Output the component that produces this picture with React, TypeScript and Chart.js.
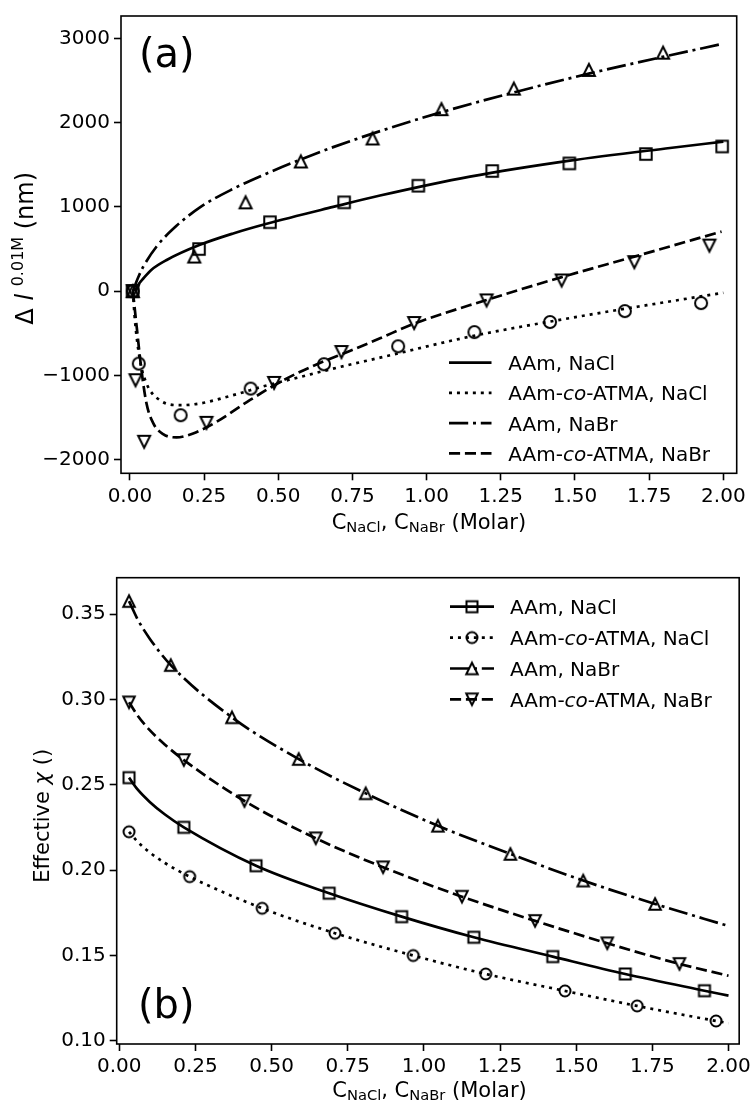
import React, { useEffect, useRef } from "react";
import { Chart, registerables } from "chart.js";
Chart.register(...registerables);

// ================= Panel (a): Δl relative to 0.01 M (nm) =================
const aXTicks = [0, 0.25, 0.5, 0.75, 1.0, 1.25, 1.5, 1.75, 2.0];
const aYTicks = [-2000, -1000, 0, 1000, 2000, 3000];

// measured points (markers)
const aAAmNaClX = [0.009, 0.233, 0.472, 0.722, 0.972, 1.221, 1.481, 1.739, 1.996];
const aAAmNaClY = [0, 500, 818, 1054, 1252, 1426, 1517, 1628, 1718];
const aCoNaClX = [0.01, 0.03, 0.171, 0.407, 0.654, 0.904, 1.161, 1.416, 1.668, 1.925];
const aCoNaClY = [0, -860, -1473, -1157, -868, -655, -486, -367, -237, -142];
const aAAmNaBrX = [0.01, 0.217, 0.39, 0.576, 0.818, 1.05, 1.294, 1.547, 1.797];
const aAAmNaBrY = [0, 411, 1054, 1540, 1813, 2161, 2405, 2627, 2832];
const aCoNaBrX = [0.01, 0.019, 0.048, 0.258, 0.486, 0.713, 0.958, 1.202, 1.455, 1.7, 1.953];
const aCoNaBrY = [0, -1058, -1789, -1564, -1090, -723, -379, -110, 127, 344, 541];

// fitted curves
const aAAmNaClFitX = [0.017, 0.03, 0.045, 0.073, 0.124, 0.236, 0.348, 0.461, 0.685, 0.843, 1.146, 1.483, 1.82, 2.0];
const aAAmNaClFitY = [0, 85, 150, 255, 370, 550, 685, 800, 1000, 1135, 1360, 1550, 1700, 1775];
const aCoNaClFitX = [0.01, 0.017, 0.034, 0.056, 0.101, 0.169, 0.236, 0.348, 0.461, 0.573, 0.685, 0.843, 1.146, 1.483, 2.0];
const aCoNaClFitY = [0, -347, -821, -1097, -1295, -1354, -1334, -1235, -1120, -1020, -920, -790, -540, -320, -19];
const aAAmNaBrFitX = [0.01, 0.02, 0.03, 0.045, 0.09, 0.157, 0.236, 0.348, 0.46, 0.573, 0.685, 0.843, 1.05, 1.3, 1.55, 1.8, 2.0];
const aAAmNaBrFitY = [0, 95, 180, 290, 530, 775, 995, 1215, 1395, 1560, 1710, 1900, 2125, 2365, 2585, 2785, 2938];
const aCoNaBrFitX = [0.01, 0.023, 0.039, 0.056, 0.079, 0.112, 0.157, 0.213, 0.292, 0.404, 0.517, 0.629, 0.741, 0.843, 0.955, 1.202, 1.455, 1.7, 1.994];
const aCoNaBrFitY = [0, -427, -940, -1334, -1571, -1698, -1737, -1690, -1552, -1295, -1058, -870, -710, -560, -390, -105, 166, 410, 707];

// ================= Panel (b): effective chi =================
const bXTicks = [0, 0.25, 0.5, 0.75, 1.0, 1.25, 1.5, 1.75, 2.0];
const bYTicks = [0.1, 0.15, 0.2, 0.25, 0.3, 0.35];

const bAAmNaClX = [0.032, 0.212, 0.449, 0.689, 0.927, 1.164, 1.423, 1.661, 1.921];
const bAAmNaClY = [0.2542, 0.2251, 0.2026, 0.1865, 0.1728, 0.1607, 0.1494, 0.1392, 0.1294];
const bCoNaClX = [0.032, 0.231, 0.469, 0.708, 0.965, 1.203, 1.463, 1.7, 1.959];
const bCoNaClY = [0.2225, 0.1962, 0.1777, 0.1631, 0.15, 0.1392, 0.1293, 0.1205, 0.1117];
const bAAmNaBrX = [0.032, 0.169, 0.37, 0.589, 0.809, 1.046, 1.284, 1.523, 1.759];
const bAAmNaBrY = [0.3576, 0.3201, 0.2895, 0.2651, 0.245, 0.226, 0.2095, 0.1939, 0.1802];
const bCoNaBrX = [0.032, 0.212, 0.411, 0.645, 0.866, 1.125, 1.365, 1.602, 1.839];
const bCoNaBrY = [0.2983, 0.2645, 0.2405, 0.2187, 0.2017, 0.1845, 0.1703, 0.1572, 0.1451];

const bAAmNaClFitX = [0.032, 0.06, 0.1, 0.15, 0.212, 0.449, 0.689, 0.927, 1.164, 1.423, 1.661, 1.921, 2.0];
const bAAmNaClFitY = [0.2542, 0.2473, 0.24, 0.2326, 0.2251, 0.2026, 0.1865, 0.1728, 0.1607, 0.1494, 0.1392, 0.1294, 0.1265];
const bCoNaClFitX = [0.032, 0.06, 0.1, 0.15, 0.231, 0.469, 0.708, 0.965, 1.203, 1.463, 1.7, 1.959, 2.0];
const bCoNaClFitY = [0.2225, 0.2167, 0.2104, 0.2042, 0.1962, 0.1777, 0.1631, 0.15, 0.1392, 0.1293, 0.1205, 0.1117, 0.1104];
const bAAmNaBrFitX = [0.032, 0.06, 0.1, 0.169, 0.37, 0.589, 0.809, 1.046, 1.284, 1.523, 1.759, 2.0];
const bAAmNaBrFitY = [0.3576, 0.347, 0.3356, 0.3201, 0.2895, 0.2651, 0.245, 0.226, 0.2095, 0.1939, 0.1802, 0.1673];
const bCoNaBrFitX = [0.032, 0.06, 0.1, 0.15, 0.212, 0.411, 0.645, 0.866, 1.125, 1.365, 1.602, 1.839, 2.0];
const bCoNaBrFitY = [0.2983, 0.2906, 0.282, 0.2735, 0.2645, 0.2405, 0.2187, 0.2017, 0.1845, 0.1703, 0.1572, 0.1451, 0.1382];

const seriesNames = ["AAm, NaCl", "AAm-co-ATMA, NaCl", "AAm, NaBr", "AAm-co-ATMA, NaBr"];

// ================= layout / styling =================
const W = 755;
const H = 1104;
const SPLIT = 545; // page y where the second canvas starts

const FONT = '"DejaVu Sans", sans-serif';
const LW = 2.7;
const DASH: Record<string, number[]> = {
  solid: [],
  dotted: [3, 4.95],
  dashdot: [19.2, 4.8, 3, 4.8],
  dashed: [11.1, 4.8],
};

const pts = (xs: number[], ys: number[]) => xs.map((x, i) => ({ x, y: ys[i] }));

function makeMarker(shape: string, size: number, lw: number): HTMLCanvasElement {
  const dim = 2 * Math.ceil(size / 2 + lw + 2);
  const c = document.createElement("canvas");
  c.width = dim;
  c.height = dim;
  const g = c.getContext("2d")!;
  const cx = dim / 2, cy = dim / 2, h = size / 2;
  g.strokeStyle = "#000";
  g.lineWidth = lw;
  g.lineJoin = "miter";
  g.beginPath();
  if (shape === "square") g.rect(cx - h, cy - h, size, size);
  else if (shape === "circle") g.arc(cx, cy, h, 0, Math.PI * 2);
  else if (shape === "up") {
    g.moveTo(cx, cy - h); g.lineTo(cx - h, cy + h); g.lineTo(cx + h, cy + h); g.closePath();
  } else {
    g.moveTo(cx, cy + h); g.lineTo(cx - h, cy - h); g.lineTo(cx + h, cy - h); g.closePath();
  }
  g.stroke();
  return c;
}

type Piece = { t: string; size: number; italic?: boolean; dy?: number };
function fontOf(p: Piece) {
  return `${p.italic ? "italic " : ""}${p.size}px ${FONT}`;
}
function richWidth(ctx: CanvasRenderingContext2D, pieces: Piece[]) {
  let w = 0;
  for (const p of pieces) { ctx.font = fontOf(p); w += ctx.measureText(p.t).width; }
  return w;
}
function drawRich(ctx: CanvasRenderingContext2D, pieces: Piece[], x: number, y: number) {
  let cx = x;
  ctx.textBaseline = "alphabetic";
  ctx.textAlign = "left";
  for (const p of pieces) {
    ctx.font = fontOf(p);
    ctx.fillText(p.t, cx, y + (p.dy || 0));
    cx += ctx.measureText(p.t).width;
  }
}
function drawRichCentered(ctx: CanvasRenderingContext2D, pieces: Piece[], x: number, y: number, rotated: boolean) {
  const w = richWidth(ctx, pieces);
  ctx.save();
  ctx.translate(x, y);
  if (rotated) ctx.rotate(-Math.PI / 2);
  drawRich(ctx, pieces, -w / 2, 0);
  ctx.restore();
}
function legendPieces(name: string, size: number): Piece[] {
  const i = name.indexOf("-co-");
  if (i < 0) return [{ t: name, size }];
  return [
    { t: name.slice(0, i + 1), size },
    { t: "co", size, italic: true },
    { t: name.slice(i + 3), size },
  ];
}
function drawFrame(ctx: CanvasRenderingContext2D, ca: any) {
  ctx.strokeStyle = "#000";
  ctx.lineWidth = 1.6;
  ctx.setLineDash([]);
  ctx.strokeRect(ca.left, ca.top, ca.right - ca.left, ca.bottom - ca.top);
}

const xTitle: Piece[] = [
  { t: "C", size: 21 },
  { t: "NaCl", size: 14.7, dy: 3.4 },
  { t: ", C", size: 21 },
  { t: "NaBr", size: 14.7, dy: 3.4 },
  { t: " (Molar)", size: 21 },
];
const aYTitle: Piece[] = [
  { t: "Δ ", size: 24 },
  { t: "l", size: 24, italic: true },
  { t: " ", size: 24 },
  { t: "0.01M", size: 16, dy: -10.3 },
  { t: " (nm)", size: 24 },
];
const bYTitle: Piece[] = [
  { t: "Effective ", size: 21 },
  { t: "χ", size: 21, italic: true },
  { t: " ()", size: 21 },
];

function axis(ticksArr: number[], fmt: (v: number) => string, min: number, max: number, fixed: number, isX: boolean) {
  return {
    type: "linear",
    min,
    max,
    afterFit: (s: any) => {
      if (isX) s.height = fixed;
      else s.width = fixed;
    },
    afterBuildTicks: (s: any) => {
      s.ticks = ticksArr.map((v) => ({ value: v }));
    },
    ticks: {
      font: { family: FONT, size: 20 },
      color: "#000",
      padding: 4,
      autoSkip: false,
      maxRotation: 0,
      minRotation: 0,
      callback: (v: any) => fmt(Number(v)),
    },
    grid: { drawOnChartArea: false, drawTicks: true, tickLength: 7, tickWidth: 1.6, tickColor: "#000" },
    border: { display: false },
  };
}

const fmt2 = (v: number) => v.toFixed(2);
const fmtInt = (v: number) => (v < 0 ? "\u2212" + Math.abs(v) : String(v));

function lineDs(xs: number[], ys: number[], dash: number[]) {
  return {
    data: pts(xs, ys),
    showLine: true,
    pointRadius: 0,
    pointHoverRadius: 0,
    borderColor: "#000",
    borderWidth: LW,
    borderDash: dash,
    cubicInterpolationMode: "monotone",
    fill: false,
  };
}
function markerDs(xs: number[], ys: number[], marker: HTMLCanvasElement) {
  return {
    data: pts(xs, ys),
    showLine: false,
    pointStyle: marker,
    pointRadius: 6,
    pointHoverRadius: 6,
    borderColor: "#000",
    backgroundColor: "transparent",
  };
}

function makeA(canvas: HTMLCanvasElement) {
  const mk = {
    square: makeMarker("square", 11.5, 2),
    circle: makeMarker("circle", 12, 2),
    up: makeMarker("up", 12, 2),
    down: makeMarker("down", 12, 2),
  };
  const legendDash = [DASH.solid, DASH.dotted, DASH.dashdot, DASH.dashed];
  const deco = {
    id: "decoA",
    afterDraw(chart: any) {
      const ctx: CanvasRenderingContext2D = chart.ctx;
      ctx.save();
      drawFrame(ctx, chart.chartArea);
      ctx.fillStyle = "#000";
      ctx.font = `40px ${FONT}`;
      ctx.textBaseline = "alphabetic";
      ctx.textAlign = "left";
      ctx.fillText("(a)", 139, 66.7);
      drawRichCentered(ctx, xTitle, 428.9, 529, false);
      drawRichCentered(ctx, aYTitle, 33.3, 248.3, true);
      const rows = [362.7, 392.9, 423.1, 453.3];
      rows.forEach((ry, i) => {
        ctx.strokeStyle = "#000";
        ctx.lineWidth = LW;
        ctx.setLineDash(legendDash[i]);
        ctx.beginPath();
        ctx.moveTo(449, ry);
        ctx.lineTo(491.5, ry);
        ctx.stroke();
        ctx.setLineDash([]);
        ctx.fillStyle = "#000";
        drawRich(ctx, legendPieces(seriesNames[i], 20), 508.3, ry + 7.4);
      });
      ctx.restore();
    },
  };
  return new Chart(canvas, {
    type: "scatter",
    data: {
      datasets: [
        lineDs(aAAmNaClFitX, aAAmNaClFitY, DASH.solid),
        lineDs(aCoNaClFitX, aCoNaClFitY, DASH.dotted),
        lineDs(aAAmNaBrFitX, aAAmNaBrFitY, DASH.dashdot),
        lineDs(aCoNaBrFitX, aCoNaBrFitY, DASH.dashed),
        markerDs(aAAmNaClX, aAAmNaClY, mk.square),
        markerDs(aCoNaClX, aCoNaClY, mk.circle),
        markerDs(aAAmNaBrX, aAAmNaBrY, mk.up),
        markerDs(aCoNaBrX, aCoNaBrY, mk.down),
      ] as any,
    },
    options: {
      animation: false,
      responsive: false,
      devicePixelRatio: 1,
      events: [],
      layout: { padding: { left: 0, top: 15, right: W - 736.7, bottom: 0 } },
      plugins: { legend: { display: false }, tooltip: { enabled: false } },
      scales: {
        x: axis(aXTicks, fmt2, -0.03, 2.045, SPLIT - 473.3, true),
        y: axis(aYTicks, fmtInt, -2163, 3267, 121, false),
      } as any,
    },
    plugins: [deco],
  });
}

function makeB(canvas: HTMLCanvasElement) {
  const mk = {
    square: makeMarker("square", 11, 2),
    circle: makeMarker("circle", 11, 2),
    up: makeMarker("up", 11.5, 2),
    down: makeMarker("down", 11.5, 2),
  };
  const legendDash = [DASH.solid, DASH.dotted, DASH.dashdot, DASH.dashed];
  const legendMk = [mk.square, mk.circle, mk.up, mk.down];
  const o = SPLIT; // page -> canvas offset
  const deco = {
    id: "decoB",
    afterDraw(chart: any) {
      const ctx: CanvasRenderingContext2D = chart.ctx;
      ctx.save();
      drawFrame(ctx, chart.chartArea);
      ctx.fillStyle = "#000";
      ctx.font = `40px ${FONT}`;
      ctx.textBaseline = "alphabetic";
      ctx.textAlign = "left";
      ctx.fillText("(b)", 138, 1018.3 - o);
      drawRichCentered(ctx, xTitle, 429.5, 1097 - o, false);
      drawRichCentered(ctx, bYTitle, 49, 815.8 - o, true);
      const rows = [606.7, 637.6, 668.5, 699.3];
      rows.forEach((py, i) => {
        const ry = py - o;
        ctx.strokeStyle = "#000";
        ctx.lineWidth = LW;
        ctx.setLineDash(legendDash[i]);
        ctx.beginPath();
        ctx.moveTo(450, ry);
        ctx.lineTo(494, ry);
        ctx.stroke();
        ctx.setLineDash([]);
        const m = legendMk[i];
        ctx.drawImage(m, 472 - m.width / 2, ry - m.height / 2);
        ctx.fillStyle = "#000";
        drawRich(ctx, legendPieces(seriesNames[i], 20), 510, ry + 7.4);
      });
      ctx.restore();
    },
  };
  return new Chart(canvas, {
    type: "scatter",
    data: {
      datasets: [
        lineDs(bAAmNaClFitX, bAAmNaClFitY, DASH.solid),
        lineDs(bCoNaClFitX, bCoNaClFitY, DASH.dotted),
        lineDs(bAAmNaBrFitX, bAAmNaBrFitY, DASH.dashdot),
        lineDs(bCoNaBrFitX, bCoNaBrFitY, DASH.dashed),
        markerDs(bAAmNaClX, bAAmNaClY, mk.square),
        markerDs(bCoNaClX, bCoNaClY, mk.circle),
        markerDs(bAAmNaBrX, bAAmNaBrY, mk.up),
        markerDs(bCoNaBrX, bCoNaBrY, mk.down),
      ] as any,
    },
    options: {
      animation: false,
      responsive: false,
      devicePixelRatio: 1,
      events: [],
      layout: { padding: { left: 0, top: 577.7 - o, right: W - 742.3, bottom: 0 } },
      plugins: { legend: { display: false }, tooltip: { enabled: false } },
      scales: {
        x: axis(bXTicks, fmt2, -0.0085, 2.035, H - 1044, true),
        y: axis(bYTicks, fmt2, 0.0982, 0.3713, 116.7, false),
      } as any,
    },
    plugins: [deco],
  });
}

export default function App() {
  const refA = useRef<HTMLCanvasElement>(null);
  const refB = useRef<HTMLCanvasElement>(null);
  useEffect(() => {
    const charts = [makeA(refA.current!), makeB(refB.current!)];
    return () => charts.forEach((c) => c.destroy());
  }, []);
  return (
    <div style={{ position: "absolute", left: 0, top: 0, width: W, height: H, background: "#fff" }}>
      <canvas
        ref={refA}
        width={W}
        height={SPLIT}
        style={{ position: "absolute", left: 0, top: 0, width: W, height: SPLIT }}
      />
      <canvas
        ref={refB}
        width={W}
        height={H - SPLIT}
        style={{ position: "absolute", left: 0, top: SPLIT, width: W, height: H - SPLIT }}
      />
    </div>
  );
}
